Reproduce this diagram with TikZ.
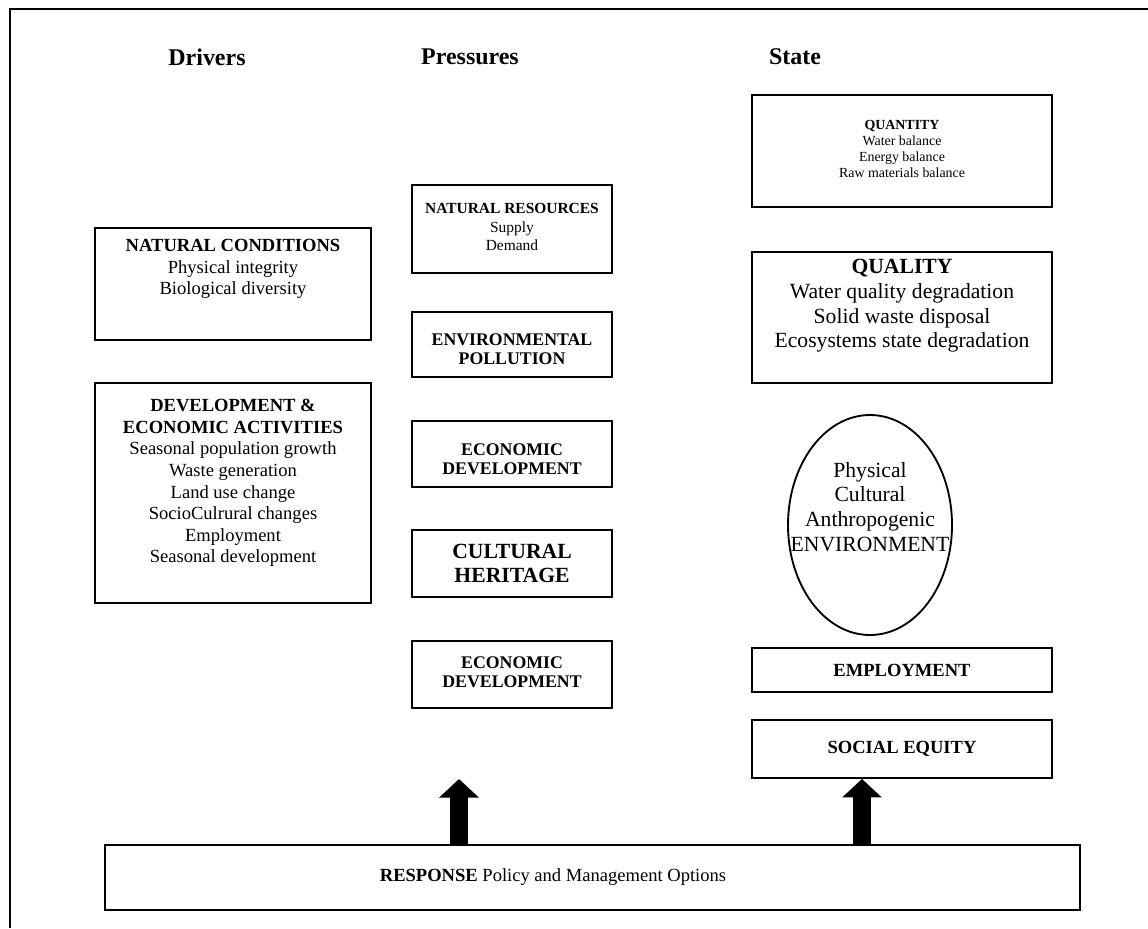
\documentclass[tikz,border=0pt]{standalone}
\usepackage{fontspec}
\setmainfont{Liberation Serif}
\usetikzlibrary{positioning,shapes.geometric,arrows.meta}
\newcommand{\pxu}{0.647pt}
\tikzset{
  box/.style={draw, line width=1.2pt, inner sep=0pt},
  txt/.style={align=center, inner sep=0pt, font=\fontsize{12}{14}\selectfont},
  midtxt/.style={align=center, inner sep=0pt, font=\fontsize{11.5}{12}\selectfont\bfseries},
  smalltxt/.style={align=center, inner sep=0pt, font=\fontsize{9}{10.5}\selectfont},
  bigtxt/.style={align=center, inner sep=0pt, font=\fontsize{14}{16}\selectfont},
  head/.style={inner sep=0pt, font=\fontsize{15.5}{18}\selectfont\bfseries},
  bigarrow/.style={line width=12pt, -{Triangle[length=12pt,width=25pt]}}
}
\begin{document}
\begin{tikzpicture}[x=0.647pt, y=-0.647pt]
\useasboundingbox (0,0) rectangle (1148,928);
% frame
\draw[line width=1.5pt] (10,928) -- (10,9) -- (1148,9);
% headers
\node[head] (drivers) at (207,57) {Drivers};
\node[head] (pressures) at (470,57) {Pressures};
\node[head] (state) at (795,57) {State};
% drivers
\node[box, minimum width=276*\pxu, minimum height=112*\pxu] (nc) at (233,284) {};
\node[txt] (nctext) at (233,269) {\textbf{NATURAL CONDITIONS}\\Physical integrity\\Biological diversity};
\node[box, minimum width=276*\pxu, minimum height=220*\pxu] (dev) at (233,493) {};
\node[txt] (devtext) at (233,483) {\textbf{DEVELOPMENT \&}\\\textbf{ECONOMIC ACTIVITIES}\\Seasonal population growth\\Waste generation\\Land use change\\SocioCulrural changes\\Employment\\Seasonal development};
% pressures
\node[box, minimum width=200*\pxu, minimum height=88*\pxu] (nr) at (512,229) {};
\node[align=center, inner sep=0pt, font=\fontsize{10}{12}\selectfont] (nrtext) at (512,227) {\textbf{NATURAL RESOURCES}\\Supply\\Demand};
\node[box, minimum width=200*\pxu, minimum height=65*\pxu] (ep) at (512,344.5) {};
\node[midtxt] (eptext) at (512,349) {ENVIRONMENTAL\\POLLUTION};
\node[box, minimum width=200*\pxu, minimum height=66*\pxu] (edone) at (512,454) {};
\node[midtxt] (edonetext) at (512,459) {ECONOMIC\\DEVELOPMENT};
\node[box, bigtxt, font=\fontsize{14}{15.5}\selectfont\bfseries, minimum width=200*\pxu, minimum height=67*\pxu] (ch) at (512,563.5) {CULTURAL\\HERITAGE};
\node[box, minimum width=200*\pxu, minimum height=67*\pxu] (edtwo) at (512,674.5) {};
\node[midtxt] (edtwotext) at (512,672) {ECONOMIC\\DEVELOPMENT};
% state
\node[box, minimum width=300*\pxu, minimum height=112*\pxu] (qt) at (902,151) {};
\node[smalltxt] (qttext) at (902,149) {\textbf{QUANTITY}\\Water balance\\Energy balance\\Raw materials balance};
\node[box, minimum width=300*\pxu, minimum height=131*\pxu] (ql) at (902,317.5) {};
\node[bigtxt] (qltext) at (902,306) {\textbf{QUALITY}\\Water quality degradation\\Solid waste disposal\\Ecosystems state degradation};
\node[box, ellipse, minimum width=164*\pxu, minimum height=220*\pxu] (env) at (870,525) {};
\node[bigtxt] (envtext) at (870,507) {Physical\\Cultural\\Anthropogenic\\ENVIRONMENT};
\node[box, txt, font=\fontsize{12}{14}\selectfont\bfseries, minimum width=300*\pxu, minimum height=44*\pxu] (emp) at (902,670) {EMPLOYMENT};
\node[box, txt, font=\fontsize{12}{14}\selectfont\bfseries, minimum width=300*\pxu, minimum height=58*\pxu] (se) at (902,749) {SOCIAL EQUITY};
% response
\node[box, minimum width=975*\pxu, minimum height=65*\pxu] (resp) at (592.5,877.5) {};
\node[inner sep=0pt, font=\fontsize{12}{14}\selectfont] (resptext) at (553,877) {\textbf{RESPONSE} Policy and Management Options};
% arrows
\coordinate (tipone) at (459,779);
\draw[bigarrow] (resp.north -| tipone) -- (tipone);
\draw[bigarrow] (resp.north -| 862,0) -- (se.south -| 862,0);
\end{tikzpicture}
\end{document}
